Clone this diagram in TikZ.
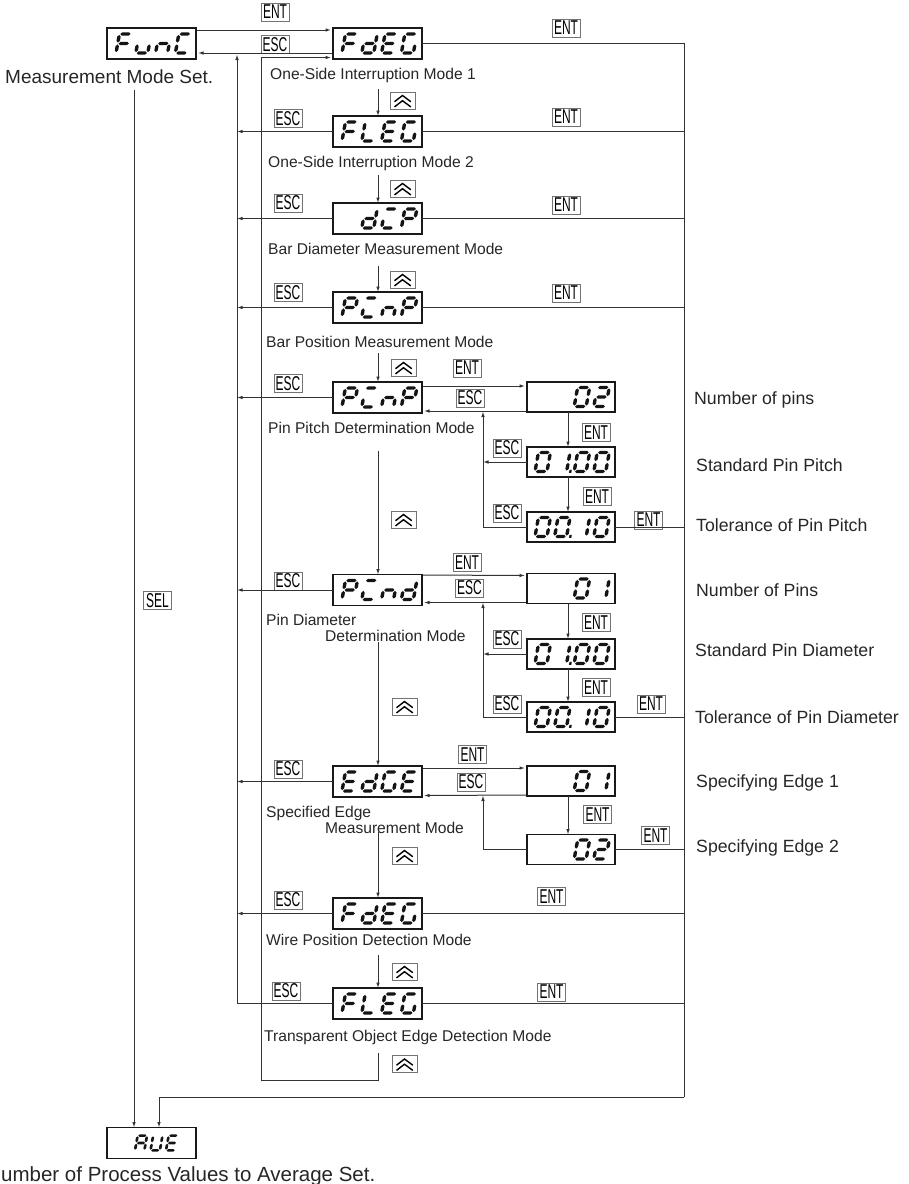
\documentclass[tikz,border=0pt]{standalone}
\usepackage{fontspec}
\setmainfont{Liberation Sans}
\newfontfamily\keyfont{Liberation Sans}[FakeStretch=0.6]
\usetikzlibrary{arrows.meta,calc}
\tikzset{
  conn/.style={draw=black!80,line width=1pt},
  arr/.style={-{Latex[length=5.5pt,width=3.6pt]}},
  disp/.style={draw=black!90,line width=1.1pt,minimum width=89pt,minimum height=31pt,inner sep=0pt,outer sep=0pt},
  subdisp/.style={disp,minimum width=88pt,minimum height=30pt},
  keylbl/.style={draw=black!55,line width=1pt,minimum width=28pt,minimum height=18pt,inner sep=0pt,font=\keyfont\fontsize{20}{20}\selectfont},
  upkey/.style={draw=black!55,line width=1pt,minimum width=25pt,minimum height=17pt,inner sep=0pt,
    path picture={
      \draw[black,line width=1.4pt] ($(path picture bounding box.center)+(-8,1.2)$) -- ++(8,-6.2) -- ++(8.3,6.2);
      \draw[black,line width=1.4pt] ($(path picture bounding box.center)+(-8,6.4)$) -- ++(8,-6.2) -- ++(8.3,6.2);}},
  captxt/.style={anchor=west,inner sep=0pt,text=black!85,font=\fontsize{15.6}{18}\selectfont},
  sidetxt/.style={anchor=west,inner sep=0pt,text=black!85,font=\fontsize{17.7}{20}\selectfont},
  bigtxt/.style={anchor=west,inner sep=0pt,text=black!85,font=\fontsize{19}{22}\selectfont},
  segfill/.style={fill=black!92}
}
% horizontal segment: x1, x2, y ; vertical segment: x, ytop, ybottom
\newcommand\HSeg[3]{\fill[segfill] (#1,#3) -- ({#1+1.7},{#3-1.7}) -- ({#2-1.7},{#3-1.7}) -- (#2,#3) -- ({#2-1.7},{#3+1.7}) -- ({#1+1.7},{#3+1.7}) -- cycle;}
\newcommand\VSeg[3]{\fill[segfill] (#1,#2) -- ({#1+1.7},{#2+1.7}) -- ({#1+1.7},{#3-1.7}) -- (#1,#3) -- ({#1-1.7},{#3-1.7}) -- ({#1-1.7},{#2+1.7}) -- cycle;}
\newcommand\SevSega{\HSeg{0.9}{11.1}{-19}}
\newcommand\SevSegd{\HSeg{0.9}{11.1}{0}}
\newcommand\SevSegg{\HSeg{0.9}{11.1}{-9.5}}
\newcommand\SevSegb{\VSeg{12}{-18.1}{-10.4}}
\newcommand\SevSegc{\VSeg{12}{-8.6}{-0.9}}
\newcommand\SevSegf{\VSeg{0}{-18.1}{-10.4}}
\newcommand\SevSege{\VSeg{0}{-8.6}{-0.9}}
\newcommand\SevSegp{\fill[segfill] (14.6,-1.6) rectangle (16.9,1.4);}
% glyph: node, xoff, yoff, segments, scale
\newcommand\dgs[5]{\begin{scope}[shift={($(#1.west)+(#2,#3)$)},scale=#5,xslant=0.18]
  \foreach \sg in {#4}{\csname SevSeg\sg\endcsname}\end{scope}}
% glyph in cell k of a main display / of a sub display
\newcommand\dg[3]{\dgs{#1}{9+19.8*#2}{9.5}{#3}{1}}
\newcommand\dgb[3]{\dgs{#1}{8+19.6*#2}{9.5}{#3}{1}}
\begin{document}
\begin{tikzpicture}[x=1pt,y=-1pt]
\useasboundingbox (0,0) rectangle (909,1184);
% ---------- displays ----------
\node[disp] (func) at (151.5,43.5) {};
\node[disp] (r1) at (377.5,43.5) {};
\node[disp] (r2) at (377.5,131.5) {};
\node[disp] (r3) at (377.5,218.5) {};
\node[disp] (r4) at (377.5,307.5) {};
\node[disp] (r5) at (377.5,397.5) {};
\node[disp] (r6) at (377.5,590) {};
\node[disp] (r7) at (377.5,781.5) {};
\node[disp] (r8) at (377.5,913.5) {};
\node[disp] (r9) at (377.5,1003.5) {};
\node[subdisp] (p1) at (571,397) {};
\node[subdisp] (p2) at (571,462) {};
\node[subdisp] (p3) at (571,527) {};
\node[subdisp] (d1) at (571,588.5) {};
\node[subdisp] (d2) at (571,654) {};
\node[subdisp] (d3) at (571,717) {};
\node[subdisp] (e1) at (571,781) {};
\node[subdisp] (e2) at (571,849.5) {};
\node[disp] (aue) at (151.5,1143) {};
% ---------- seven-segment contents ----------
\dg{func}{0}{a,f,e,g}\dg{func}{1}{c,d,e}\dg{func}{2}{e,g,c}\dg{func}{3}{a,f,e,d}
\dg{r1}{0}{a,f,e,g}\dg{r1}{1}{b,c,d,e,g}\dg{r1}{2}{a,f,g,e,d}\dg{r1}{3}{a,f,e,d,c}
\dg{r2}{0}{a,f,e,g}\dg{r2}{1}{f,e,d}\dg{r2}{2}{a,f,g,e,d}\dg{r2}{3}{a,f,e,d,c}
\dg{r3}{1}{b,c,d,e,g}\dg{r3}{2}{a,e,d}\dg{r3}{3}{a,b,f,g,e}
\dg{r4}{0}{a,b,f,g,e}\dg{r4}{1}{a,e,d}\dg{r4}{2}{e,g,c}\dg{r4}{3}{a,b,f,g,e}
\dg{r5}{0}{a,b,f,g,e}\dg{r5}{1}{a,e,d}\dg{r5}{2}{e,g,c}\dg{r5}{3}{a,b,f,g,e}
\dg{r6}{0}{a,b,f,g,e}\dg{r6}{1}{a,e,d}\dg{r6}{2}{e,g,c}\dg{r6}{3}{b,c,d,e,g}
\dg{r7}{0}{a,f,g,e,d}\dg{r7}{1}{b,c,d,e,g}\dg{r7}{2}{a,f,e,d,c}\dg{r7}{3}{a,f,g,e,d}
\dg{r8}{0}{a,f,e,g}\dg{r8}{1}{b,c,d,e,g}\dg{r8}{2}{a,f,g,e,d}\dg{r8}{3}{a,f,e,d,c}
\dg{r9}{0}{a,f,e,g}\dg{r9}{1}{f,e,d}\dg{r9}{2}{a,f,g,e,d}\dg{r9}{3}{a,f,e,d,c}
\dgb{p1}{2}{a,b,c,d,e,f}\dgb{p1}{3}{a,b,g,e,d}
\dgb{p2}{0}{a,b,c,d,e,f}\dgb{p2}{1}{b,c,p}\dgb{p2}{2}{a,b,c,d,e,f}\dgb{p2}{3}{a,b,c,d,e,f}
\dgb{p3}{0}{a,b,c,d,e,f}\dgb{p3}{1}{a,b,c,d,e,f,p}\dgb{p3}{2}{b,c}\dgb{p3}{3}{a,b,c,d,e,f}
\dgb{d1}{2}{a,b,c,d,e,f}\dgb{d1}{3}{b,c}
\dgb{d2}{0}{a,b,c,d,e,f}\dgb{d2}{1}{b,c,p}\dgb{d2}{2}{a,b,c,d,e,f}\dgb{d2}{3}{a,b,c,d,e,f}
\dgb{d3}{0}{a,b,c,d,e,f}\dgb{d3}{1}{a,b,c,d,e,f,p}\dgb{d3}{2}{b,c}\dgb{d3}{3}{a,b,c,d,e,f}
\dgb{e1}{2}{a,b,c,d,e,f}\dgb{e1}{3}{b,c}
\dgb{e2}{2}{a,b,c,d,e,f}\dgb{e2}{3}{a,b,g,e,d}
\dgs{aue}{28}{7.4}{a,b,c,e,f,g}{0.78}
\dgs{aue}{43.5}{7.4}{b,c,d,e,f}{0.78}
\dgs{aue}{59}{7.4}{a,f,g,e,d}{0.78}
% ---------- captions ----------
\node[bigtxt] (cf) at (5,77) {Measurement Mode Set.};
\node[bigtxt,font=\fontsize{20.5}{23}\selectfont] (ca) at (1,1176) {umber of Process Values to Average Set.};
\node[captxt] (c1) at (270,75) {One-Side Interruption Mode 1};
\node[captxt] (c2) at (268,163) {One-Side Interruption Mode 2};
\node[captxt] (c3) at (268,249) {Bar Diameter Measurement Mode};
\node[captxt] (c4) at (266,342) {Bar Position Measurement Mode};
\node[captxt] (c5) at (268,428) {Pin Pitch Determination Mode};
\node[captxt] (c6a) at (266,620) {Pin Diameter};
\node[captxt] (c6b) at (325,636) {Determination Mode};
\node[captxt] (c7a) at (266,813) {Specified Edge};
\node[captxt] (c7b) at (325,828) {Measurement Mode};
\node[captxt] (c8) at (266,940) {Wire Position Detection Mode};
\node[captxt] (c9) at (264,1037) {Transparent Object Edge Detection Mode};
\node[sidetxt] (s1) at (694,400) {Number of pins};
\node[sidetxt] (s2) at (696,465) {Standard Pin Pitch};
\node[sidetxt] (s3) at (696,525) {Tolerance of Pin Pitch};
\node[sidetxt] (s4) at (696,590) {Number of Pins};
\node[sidetxt] (s5) at (695,650) {Standard Pin Diameter};
\node[sidetxt] (s6) at (695,717) {Tolerance of Pin Diameter};
\node[sidetxt] (s7) at (696,783) {Specifying Edge 1};
\node[sidetxt] (s8) at (696,848) {Specifying Edge 2};
% ---------- key labels ----------
\node[keylbl] (kt1) at (275,12) {ENT};
\node[keylbl] (ks1) at (275,44.5) {ESC};
\node[keylbl] (ke1) at (566,28) {ENT};
\node[keylbl] (ke2) at (566,117) {ENT};
\node[keylbl] (ke3) at (566,205) {ENT};
\node[keylbl] (ke4) at (566,293) {ENT};
\node[keylbl] (ke8) at (551.5,896.5) {ENT};
\node[keylbl] (ke9) at (551.5,992) {ENT};
\node[keylbl] (ks2) at (288,118.5) {ESC};
\node[keylbl] (ks3) at (288,203) {ESC};
\node[keylbl] (ks4) at (288,292.5) {ESC};
\node[keylbl] (ks5) at (288,383.5) {ESC};
\node[keylbl] (ks6) at (288,581) {ESC};
\node[keylbl] (ks7) at (288,769) {ESC};
\node[keylbl] (ks8) at (288,900) {ESC};
\node[keylbl] (ks9) at (286,991) {ESC};
\node[keylbl] (kp0) at (467,368) {ENT};
\node[keylbl] (kp1) at (596,432.5) {ENT};
\node[keylbl] (kp2) at (597,496.5) {ENT};
\node[keylbl] (kp3) at (648.5,520) {ENT};
\node[keylbl] (ksp0) at (470,398) {ESC};
\node[keylbl] (ksp1) at (507,448) {ESC};
\node[keylbl] (ksp2) at (507,513) {ESC};
\node[keylbl] (kd0) at (467,562.5) {ENT};
\node[keylbl] (kd1) at (596,622.5) {ENT};
\node[keylbl] (kd2) at (596,687.5) {ENT};
\node[keylbl] (kd3) at (651,704) {ENT};
\node[keylbl] (ksd0) at (469.5,588) {ESC};
\node[keylbl] (ksd1) at (507,639) {ESC};
\node[keylbl] (ksd2) at (507,704) {ESC};
\node[keylbl] (kg0) at (472.5,754.5) {ENT};
\node[keylbl] (kg1) at (597.5,814.5) {ENT};
\node[keylbl] (kg2) at (655.5,835.5) {ENT};
\node[keylbl] (ksg0) at (471,782) {ESC};
\node[keylbl] (ksel) at (157.5,600.5) {SEL};
\node[upkey] (u1) at (402.5,100.5) {};
\node[upkey] (u2) at (402.5,188.5) {};
\node[upkey] (u3) at (402.5,279.5) {};
\node[upkey] (u4) at (403.5,367.5) {};
\node[upkey] (u5) at (403.5,519.5) {};
\node[upkey] (u6) at (404.5,706.5) {};
\node[upkey] (u7) at (404.5,855.5) {};
\node[upkey] (u8) at (404.5,971.5) {};
\node[upkey] (u9) at (404.5,1064) {};
% ---------- bus coordinates ----------
\coordinate (lbus) at (237,54.5);
\coordinate (rbus) at (684,43.5);
\coordinate (rbot) at (684,1097);
\coordinate (loopstart) at (378,1053);
\coordinate (loopcorner) at (261,1080);
\coordinate (selstart) at (134,90);
\coordinate (pbus) at (483,411.5);
\coordinate (dbus) at (483,602.5);
\coordinate (gbus) at (483,795.5);
% ---------- connectors: top ----------
\draw[conn,arr] ($(func.north east)+(1,2)$) -- ($(r1.north west)+(-2,2)$);
\draw[conn,arr] ($(r1.south west)+(-1,-6)$) -- ($(func.south east)+(2,-6)$);
\draw[conn,arr] (selstart) -- (selstart |- aue.north);
% ---------- right bus ----------
\draw[conn] (r1.east) -- (rbus) -- (rbot);
\draw[conn,arr] (rbot) -| ($(aue.north west)+(52,0)$);
\foreach \n in {r2,r3,r4,r8,r9,p3,d3,e2}{\draw[conn] (\n.east) -- (\n.east -| rbus);}
% ---------- left ESC bus ----------
\draw[conn,arr] (r9.west) -| (lbus);
\foreach \n in {r2,r3,r4,r5,r6,r7,r8}{\draw[conn,arr] (\n.west) -- (\n.west -| lbus);}
% ---------- up-key loop ----------
\draw[conn,arr] (loopstart) |- (loopcorner) |- ($(r1.south west)+(-2,-1.5)$);
% ---------- main down arrows ----------
\draw[conn,arr] ($(r2.north)+(0.5,-27)$) -- ($(r2.north)+(0.5,0)$);
\draw[conn,arr] ($(r3.north)+(0.5,-28)$) -- ($(r3.north)+(0.5,0)$);
\draw[conn,arr] ($(r4.north)+(0.5,-26)$) -- ($(r4.north)+(0.5,0)$);
\draw[conn,arr] ($(r5.north)+(0.5,-29)$) -- ($(r5.north)+(0.5,0)$);
\draw[conn,arr] ($(r6.north)+(0.5,-124)$) -- ($(r6.north)+(0.5,0)$);
\draw[conn,arr] ($(r7.north)+(0.5,-124)$) -- ($(r7.north)+(0.5,0)$);
\draw[conn,arr] ($(r8.north)+(0.5,-66)$) -- ($(r8.north)+(0.5,0)$);
\draw[conn,arr] ($(r9.north)+(0.5,-33)$) -- ($(r9.north)+(0.5,0)$);
% ---------- pitch group ----------
\draw[conn,arr] ($(r5.north east)+(1,4)$) -- ($(p1.north west)+(-2,4)$);
\draw[conn,arr] ($(p1.south west)+(-1,-1)$) -- ($(r5.south east)+(2,-2)$);
\draw[conn,arr] ($(p1.south)+(-3,0)$) -- ($(p2.north)+(-3,0)$);
\draw[conn,arr] ($(p2.south)+(-3,0)$) -- ($(p3.north)+(-3,0)$);
\draw[conn,arr] (p2.west) -- (p2.west -| pbus);
\draw[conn,arr] (p3.west) -| (pbus);
% ---------- diameter group ----------
\draw[conn,arr] ($(r6.east)+(1,-15)$) -- ($(d1.west)+(-2,-13)$);
\draw[conn,arr] ($(d1.south west)+(-1,-1)$) -- ($(r6.east)+(2,12.5)$);
\draw[conn,arr] ($(d1.south)+(-3,0)$) -- ($(d2.north)+(-3,0)$);
\draw[conn,arr] ($(d2.south)+(-3,0)$) -- ($(d3.north)+(-3,0)$);
\draw[conn,arr] (d2.west) -- (d2.west -| dbus);
\draw[conn,arr] (d3.west) -| (dbus);
% ---------- edge group ----------
\draw[conn,arr] ($(r7.north east)+(1,2)$) -- ($(e1.north west)+(-2,2)$);
\draw[conn,arr] ($(e1.south west)+(-1,-1)$) -- ($(r7.south east)+(2,-1.5)$);
\draw[conn,arr] ($(e1.south)+(-3,0)$) -- ($(e2.north)+(-3,0)$);
\draw[conn,arr] (e2.west) -| (gbus);
\end{tikzpicture}
\end{document}
